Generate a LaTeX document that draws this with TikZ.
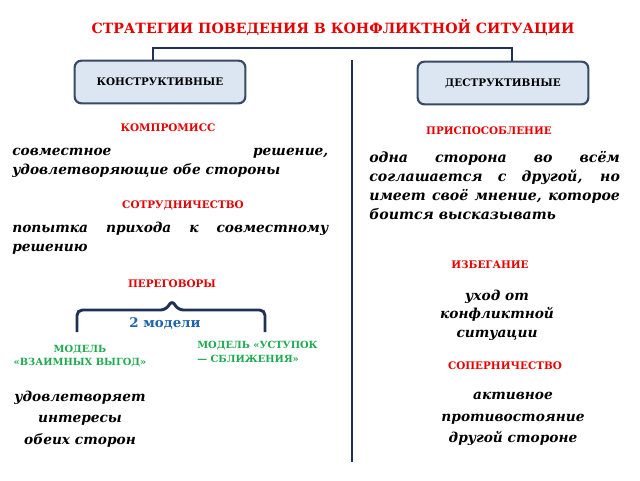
\documentclass[tikz,border=0pt]{standalone}
\usepackage{fontspec}
\setmainfont{DejaVu Serif}
\begin{document}
\begin{tikzpicture}[x=0.75pt,y=-0.75pt,
  hd/.style={font=\bfseries\fontsize{7.8}{9}\selectfont,text=myred},
  bx/.style={draw=boxline,line width=1.6pt,fill=boxfill,rounded corners=5pt,minimum width=128pt,minimum height=32pt,font=\bfseries\fontsize{7.8}{9}\selectfont},
  body/.style={font=\bfseries\itshape\fontsize{10.3}{14}\selectfont,align=justify,anchor=north west,inner sep=0pt},
  cbody/.style={font=\bfseries\itshape\fontsize{10.3}{16}\selectfont,align=center,inner sep=0pt},
  grn/.style={font=\bfseries\fontsize{7.4}{10}\selectfont,text=mygreen,inner sep=0pt},
  ln/.style={draw=linec,line width=2pt}]
\definecolor{myred}{RGB}{230,0,0}
\definecolor{boxfill}{RGB}{220,230,242}
\definecolor{boxline}{RGB}{55,75,100}
\definecolor{linec}{RGB}{30,50,85}
\definecolor{mygreen}{RGB}{30,170,80}
\definecolor{myblue}{RGB}{30,100,170}
\useasboundingbox (0,0) rectangle (640,480);
\node[font=\bfseries\fontsize{10.6}{12}\selectfont,text=myred] (title) at (333,28) {СТРАТЕГИИ ПОВЕДЕНИЯ В КОНФЛИКТНОЙ СИТУАЦИИ};
\node[bx] (kon) at (160,82) {КОНСТРУКТИВНЫЕ};
\node[bx] (des) at (503,83) {ДЕСТРУКТИВНЫЕ};
\coordinate (bl) at (153,48); \coordinate (br) at (512,48);
\draw[ln] (kon.north -| bl) -- (bl) -- (br) -- (des.north -| br);
\coordinate (vt) at (352,60); \coordinate (vb) at (352,462);
\draw[ln] (vt) -- (vb);
% left
\node[hd] (komp) at (168,128) {КОМПРОМИСС};
\node[body,text width=237pt] (kompt) at (12,148) {совместное решение, удовлетворяющие обе стороны};
\node[hd] (sotr) at (183,205) {СОТРУДНИЧЕСТВО};
\node[body,text width=237pt] (sotrt) at (12,222) {попытка прихода к совместному решению};
\node[hd] (per) at (172,284) {ПЕРЕГОВОРЫ};
\coordinate (b1) at (77,332); \coordinate (b2) at (265,332);
\draw[ln,line width=2.2pt,rounded corners=4pt] (b1) -- (77,310) -- (166,310) -- (172,300) -- (178,310) -- (265,310) -- (b2);
\node[font=\bfseries\fontsize{10}{12}\selectfont,text=myblue] (two) at (165,323) {2 модели};
\node[grn,align=center] (m1) at (80,356) {МОДЕЛЬ\\«ВЗАИМНЫХ ВЫГОД»};
\node[grn,align=left,anchor=west] (m2) at (197,352) {МОДЕЛЬ «УСТУПОК\\— СБЛИЖЕНИЯ»};
\node[cbody] (m1t) at (80,419) {удовлетворяет\\интересы\\обеих сторон};
% right
\node[hd] (pri) at (489,131) {ПРИСПОСОБЛЕНИЕ};
\node[body,text width=188pt,font=\bfseries\itshape\fontsize{10.6}{14.3}\selectfont] (prit) at (369,151) {одна сторона во всём соглашается с другой, но имеет своё мнение, которое боится высказывать};
\node[hd] (izb) at (490,265) {ИЗБЕГАНИЕ};
\node[cbody,font=\bfseries\itshape\fontsize{10.3}{14}\selectfont] (izbt) at (497,315) {уход от\\конфликтной\\ситуации};
\node[hd] (sop) at (505,366) {СОПЕРНИЧЕСТВО};
\node[cbody] (sopt) at (513,419) {активное\\противостояние\\другой стороне};
\end{tikzpicture}
\end{document}
